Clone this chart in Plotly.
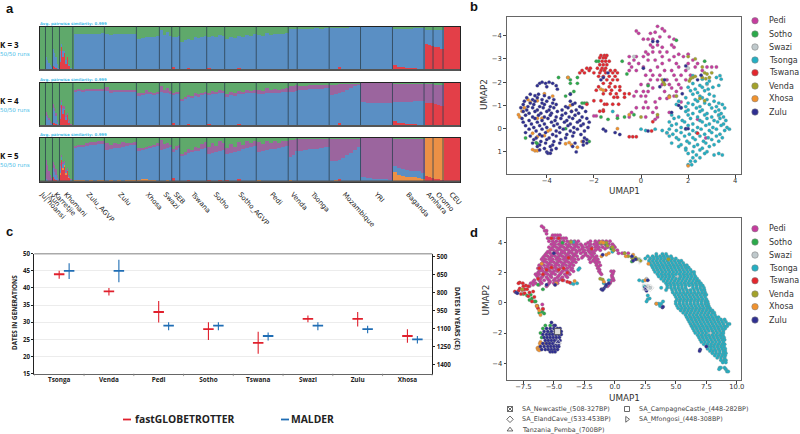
import numpy as np
import plotly.graph_objects as go

W, H = 800, 434

# ---------- panel a: admixture bars ----------
pops = ["Ju|'hoansi", "!Xun", "Karretjie", "Khomani", "Zulu_AGVP", "Zulu", "Xhosa", "Swazi", "SEB", "Tswana", "Sotho",
        "Sotho_AGVP", "Pedi", "Venda", "Tsonga", "Mozambique", "YRI", "Baganda", "Amhara", "Oromo", "CEU"]
pop_sizes = [6, 7, 7, 13.4, 31.6, 32, 23, 12.4, 8, 27, 18, 31.6, 32, 9, 32, 31.4, 32, 31.6, 9, 10, 17]

k3_red = [[0,0],[0,0,0,0,0],[.1,.08,.05,.03,0],[.2,.55,.3,.42,.15,.3,.1,.12,.03,0],
 [.005,.01,.005,.01,.005,.01,.01,.03],[.01,.01,.005,.01,.005,.01,.005,.01],[.02,.02,.02,.01,.01,.005],[.01,.01,.03,.01],
 [.08,.02,.01],[.02,.01,.05,.01,.01,.03,.01,.01],[.05,.01,.01,.03,.01],[.04,.02,.01,.06,.01,.03,.01,.01],
 [.03,.01,.01,.01,.01,.01,.01,.01],[.02,.01,.01],[.01,.01,.01,.01,.01,.01],[.01,.02,.07,.01,.01,.01,.01,.01],
 [.03,.03,.03,.03,.02,.02],[.13,.08,.07,.06,.05,.05,.04,.03],[.6,.59,.57],[.55,.53,.5],[1]]
k3_blue_top = [[0,0],[.3,.25,.18,.12,.08],[.5,.4,.3,.15,.05],[.45,.6,.45,.45,.25,.3,.15,.12,.05,0],
 [.84,.84,.85,.84,.85,.85,.84,.86],[.85,.82,.84,.83,.85,.84,.83,.85],[.73,.75,.77,.78,.77,.8],[.92,.82,.88,.8],
 [.76,.78,.8],[.66,.7,.72,.7,.76,.74,.78,.8],[.76,.8,.78,.82,.8],[.72,.78,.74,.8,.78,.82,.8,.84],
 [.82,.8,.86,.82,.84,.83,.85,.86],[.95,.96,.97],[.97,.96,.97,.98,.97,.98],[.98,.98,.99,.99,.99,1,1,1],
 [1,1,1,1,1,1],[.96,.97,.97,.97,.97,.98,.98,.98],[.94,.93,.93],[.93,.93,.92],[1]]

k4_red = [[0,0],[0,0,0,0,0],[.09,.07,.05,.03,0],[.18,.5,.28,.38,.14,.28,.1,.1,.03,0],
 [.005,.01,.005,.01,.005,.01,.01,.03],[.01,.01,.005,.01,.005,.01,.005,.01],[.02,.02,.02,.01,.01,.005],[.01,.01,.03,.01],
 [.08,.02,.01],[.02,.01,.05,.01,.01,.03,.01,.01],[.05,.01,.01,.03,.01],[.04,.02,.01,.06,.01,.03,.01,.01],
 [.03,.01,.01,.01,.01,.01,.01,.01],[.02,.01,.01],[.01,.01,.01,.01,.01,.01],[.01,.02,.07,.01,.01,.01,.01,.01],
 [.03,.03,.03,.03,.02,.02],[.13,.08,.07,.06,.05,.05,.04,.03],[.55,.55,.53],[.52,.5,.48],[1]]
k4_blue_top = [[0,0],[.25,.2,.14,.1,.06],[.42,.35,.25,.12,.04],[.42,.58,.42,.42,.22,.28,.12,.1,.03,0],
 [.8,.81,.81,.82,.82,.82,.82,.83],[.82,.78,.8,.8,.81,.8,.8,.81],[.7,.72,.74,.75,.74,.76],[.8,.76,.78,.74],
 [.72,.74,.76],[.6,.64,.67,.66,.7,.7,.74,.76],[.72,.75,.74,.77,.76],[.68,.72,.7,.75,.74,.76,.76,.78],
 [.74,.74,.76,.76,.78,.78,.79,.8],[.79,.8,.82],[.84,.85,.86,.87,.87,.88],[.73,.74,.76,.8,.84,.88,.92,.96],
 [.56,.55,.54,.54,.53,.54],[.56,.57,.57,.57,.57,.58,.58,.59],[.55,.55,.53],[.52,.5,.48],[1]]
k4_purple_top = [[0,0],[.33,.27,.2,.13,.08],[.52,.42,.3,.16,.05],[.5,.62,.48,.46,.27,.32,.17,.13,.05,0],
 [.84,.86,.85,.86,.86,.86,.86,.87],[.9,.84,.85,.84,.85,.85,.84,.85],[.76,.78,.83,.8,.78,.8],[.92,.85,.88,.82],
 [.78,.79,.8],[.64,.68,.72,.7,.76,.74,.78,.8],[.78,.82,.79,.83,.81],[.74,.8,.76,.82,.8,.84,.82,.85],
 [.84,.82,.88,.84,.86,.85,.87,.88],[.93,.94,.95],[.94,.94,.95,.95,.96,.96],[.97,.97,.98,.98,.98,.99,.99,.99],
 [1,1,1,1,1,1],[.98,.98,.99,.99,.99,.99,.99,.99],[.98,.98,.98],[.97,.97,.97],[1]]

k5_red = [[0,0],[0,0,0,0,0],[.1,.06,.04,.02,0],[.15,.5,.28,.35,.14,.25,.1,.1,.03,0],
 [0,0,.005,0,0,.005,0,.02],[0,.01,0,.005,0,.005,0,.005],[.005,.01,.005,.005,0,0],[0,.01,.02,0],
 [.07,.02,0],[.01,0,.04,.01,0,.02,0,.01],[.04,0,.01,.03,0],[.03,.01,0,.05,0,.02,.01,0],
 [.02,.01,.01,0,.01,0,.01,0],[.03,.02,.01],[.01,.01,.01,.01,0,0],[.01,.02,.05,.01,.01,.01,0,0],
 [.01,.01,.01,.01,.01,.01],[.02,.02,.02,.02,.02,.02,.02,.02],[.12,.1,.08],[.06,.05,.04],[1]]
k5_orange_top = [[0,0],[0,0,0,0,0],[.1,.06,.04,.02,0],[.2,.5,.3,.38,.2,.26,.12,.1,.03,0],
 [.03,.025,.03,.02,.025,.02,.025,.03],[.02,.025,.02,.03,.02,.025,.03,.035],[.04,.05,.05,.04,.03,.02],[.01,.015,.025,.01],
 [.07,.02,.01],[.015,.01,.04,.01,.01,.02,.01,.01],[.04,.01,.01,.03,.01],[.03,.015,.01,.05,.01,.02,.01,.01],
 [.03,.02,.02,.01,.01,.01,.01,.01],[.04,.02,.01],[.01,.01,.01,.01,.01,.01],[.02,.03,.05,.02,.01,.01,.01,.01],
 [.01,.01,.01,.01,.01,.01],[.22,.14,.12,.11,.1,.1,.08,.06],[1,1,1],[1,1,1],[1]]
k5_blue_top = [[0,0],[.05,.03,.02,.01,0],[.3,.22,.15,.07,.02],[.35,.58,.4,.44,.24,.28,.14,.12,.04,0],
 [.78,.79,.8,.82,.84,.85,.87,.88],[.72,.74,.76,.78,.8,.82,.84,.86],[.72,.74,.76,.77,.79,.81],[.73,.75,.78,.8],
 [.68,.72,.77],[.6,.62,.65,.67,.7,.72,.75,.77],[.63,.66,.68,.71,.73],[.63,.66,.68,.71,.74,.76,.79,.81],
 [.68,.7,.72,.74,.75,.77,.79,.81],[.57,.62,.69],[.71,.73,.74,.75,.77,.79],[.46,.47,.5,.54,.6,.66,.73,.8],
 [.1,.07,.06,.05,.05,.04],[.36,.3,.28,.26,.25,.24,.23,.2],[1,1,1],[1,1,1],[1]]
k5_purple_top = [[0,0],[.5,.38,.25,.15,.09],[.45,.38,.28,.15,.05],[.42,.6,.45,.46,.27,.3,.16,.13,.05,0],
 [.82,.85,.85,.88,.9,.9,.92,.92],[.88,.84,.88,.86,.9,.88,.88,.9],[.76,.78,.8,.82,.85,.88],[.96,.86,.88,.84],
 [.74,.82,.85],[.64,.68,.74,.72,.8,.76,.86,.9],[.8,.88,.82,.92,.88],[.78,.86,.8,.9,.84,.92,.88,.94],
 [.9,.86,.94,.88,.92,.88,.92,.94],[.96,.97,.98],[.98,.98,.98,.98,.99,.99],[.98,.98,.99,.99,.99,.99,.99,.99],
 [1,1,1,1,1,1],[.99,.99,.99,.99,.99,.99,.99,.99],[1,1,1],[1,1,1],[1]]

# ---------- panel c: admixture dates ----------
date_groups = ["Tsonga", "Venda", "Pedi", "Sotho", "Tswana", "Swazi", "Zulu", "Xhosa"]
fgt_date = [44, 39, 33, 28, 24, 31, 31, 26]
fgt_hi = [45, 40, 36.2, 30, 27.2, 32, 33, 28]
fgt_lo = [42.7, 37.8, 29.9, 24.8, 20.8, 30, 28.8, 24]
mal_date = [45, 45, 29, 29, 26, 29, 28, 25]
mal_hi = [47.2, 48.2, 30, 30, 27, 30, 29, 26]
mal_lo = [42.6, 41.7, 27.7, 27.7, 24.7, 27.7, 26.8, 23.8]
years_ticks = [500, 650, 800, 950, 1100, 1250, 1400]

# ---------- panels b and d: UMAP points, rows of (UMAP2, [UMAP1 ...]) ----------
group_names = ["Pedi", "Sotho", "Swazi", "Tsonga", "Tswana", "Venda", "Xhosa", "Zulu"]
group_colors = ["#C53C9E", "#2BAA4A", "#BFC9CC", "#23AFC3", "#E3262D", "#A3A22A", "#F0922E", "#2F2F91"]

b_pedi = [(-4.4,[.7]),(-4.3,[.9]),(-4.2,[-.2,1.0]),(-4.15,[.6]),(-4.1,[-.1,.4]),(-3.95,[.8,1.2]),(-3.85,[.1,.3,.5,1.4]),
 (-3.6,[.4,.7,1.3]),(-3.5,[.5,.9,1.4]),(-3.3,[.2,.5,.8,1.1]),(-3.2,[.3,1.6,2.0]),(-3.1,[-.5,-.2,.1,.9,1.4,1.8]),
 (-2.95,[-.3,.3,.6,1.2,2.2]),(-2.8,[-.5,-.1,.9,1.5,2.0,2.4]),(-2.65,[-.4,.1,.7,1.6,2.3,2.8,3.0,3.2]),
 (-2.5,[-.5,-.2,.4,1.0,1.3,1.9,2.6]),(-2.3,[.2,.5,.8,1.4,1.7,2.1]),(-2.1,[.4,.7,1.1,1.5,1.9]),(-1.9,[0,.3,.9,1.2,1.6]),
 (-1.75,[.5,1.3,1.7]),(-1.6,[-.2,.1,.3,1.0,1.5]),(-1.4,[-.3,0,.2,1.2,1.4]),(-1.3,[.8,1.1]),(-1.15,[.2,.6,1.7]),
 (-.9,[-.2,.1,.3,.65]),(-.7,[-.4,.5,1.2]),(-.55,[-1.9,-2.0,-1.0]),(-.5,[-.5,.2,.7]),(-.4,[.6,2.4]),(.4,[2.75])]
b_sotho = [(-3.8,[1.5]),(-2.9,[-1.9,-1.8,-.8,2.7]),(-2.35,[-.6]),(-2.2,[-3.5,-3.1,-2.7]),(-2.1,[-3.0]),(-1.95,[-3.0,-2.7]),
 (-1.85,[.3]),(-1.6,[-2.85]),(-1.5,[-3.0]),(-1.4,[-3.2]),(-1.1,[-2.5,-2.4,-2.3]),(-.6,[-.3]),(-.5,[-.7,-1.7]),(-.45,[-1.0]),
 (-.4,[-1.4]),(0,[-3.2]),(.4,[-4.9]),(.55,[-2.2]),(.6,[-4.45]),(.65,[-4.4])]
b_swazi = [(-3.1,[-.3]),(-2.6,[2.0]),(-1.9,[2.8]),(-1.4,[1.5]),(-.55,[3.3]),(.2,[1.1])]
b_tsonga = [(-2.28,[2.2,3.35]),(-2.2,[3.2]),(-2.13,[2.6,3.4]),(-2.05,[2.9]),(-1.94,[2.2,2.8]),(-1.86,[2.5,3.3]),(-1.78,[2.0,2.6,3.05]),
 (-1.7,[2.3,2.85]),(-1.63,[2.1,2.7]),(-1.55,[2.4]),(-1.48,[2.2,2.9]),(-1.4,[2.5,3.1]),(-1.33,[1.9,2.6]),(-1.25,[2.3,2.8]),(-1.18,[1.6,2.4,3.1]),
 (-1.1,[2.0,2.7,3.3]),(-1.04,[1.5,2.2,2.9,3.45]),(-.95,[1.9,2.5,3.2]),(-.89,[1.7,2.35,3.0,3.55]),(-.8,[2.0,2.6,3.3]),(-.74,[1.9,2.5,3.15,-1.2]),
 (-.65,[2.2,2.8,3.4]),(-.59,[1.3,2.0,2.7,3.3]),(-.5,[1.6,2.4,3.0,3.5]),(-.44,[1.4,2.1,2.8,3.35]),(-.35,[1.75,2.5,3.1,3.6]),(-.29,[1.2,1.85,2.6,3.25]),
 (-.2,[1.5,2.2,2.9,3.5]),(-.14,[1.3,2.0,2.75,3.4]),(-.05,[1.7,2.4,3.05,3.65]),(.02,[0,.6,1.2,1.9,2.55,3.2,3.75]),(.08,[.2,.9,1.5,2.2,2.9,3.55]),
 (.17,[1.1,1.7,2.35,3.0]),(.24,[1.35,2.05,2.7,3.35]),(.32,[1.2,1.85,2.5,3.2]),(.39,[1.5,2.2,2.85,3.45]),(.47,[1.6,2.3,3.0]),(.54,[1.95,2.65,3.3]),
 (.62,[1.3,2.05,2.75]),(.69,[1.7,2.4,3.1]),(.77,[1.6,2.25,2.9]),(.84,[1.9,2.6]),(.92,[1.9,2.5]),(.99,[2.2,2.8]),(1.07,[2.0,2.7,3.3]),(1.13,[2.35,3.1,3.45]),
 (1.25,[2.2,2.5]),(1.4,[2.1,2.3]),(1.55,[2.0,2.15])]
b_tswana = [(-3.15,[-1.7,-1.55,-1.45]),(-3.05,[-1.75,-1.6,-1.5]),(-2.9,[-1.65,-1.5,-1.35]),(-2.75,[-1.75,-1.6,-1.45]),
 (-2.6,[-1.85,-1.65,-1.5,-2.3,-2.15]),(-2.5,[-1.7,-1.55,-1.3,-1.1,-2.5,-2.2]),(-2.4,[-2.6,-2.4,-2.0,-1.75,-1.5,-1.2,-1.0]),
 (-2.25,[-1.8,-1.6,-1.35,-1.1]),(-2.1,[-1.45,-1.2,-1.0]),(-1.95,[-1.6,-1.3]),(-1.8,[-1.8,-1.35,-1.1,-.9]),
 (-1.65,[-1.9,-1.5,-1.25,-.9]),(-1.5,[-1.6,-1.3,-1.05,-.7,-.5]),(-1.35,[-1.15,-1.0,-.7]),(-1.2,[-2.0,-1.7]),
 (-1.05,[-2.3,-1.55,-1.45,-1.2,-.95]),(-.8,[-1.6]),(-.75,[-1.75,-1.6]),(-.3,[.5]),(.35,[-.5,-.35,-.2]),(.1,[.45]),(.2,[2.4])]
b_venda = [(-3.1,[2.0]),(-3.0,[2.3]),(-2.65,[2.6]),(-2.4,[2.7,3.0]),(-2.35,[2.8]),(-2.25,[2.3]),(-2.2,[2.2,2.6,2.9]),(-2.15,[2.1,2.75]),
 (-2.1,[.9]),(-2.05,[2.05]),(-2.0,[.95]),(-1.9,[1.0]),(-1.4,[1.2,1.5]),(-1.3,[2.5]),(-1.2,[2.7]),(-.6,[.7]),(-.5,[0])]
b_xhosa = [(-1.5,[-4.1]),(-1.4,[-3.75]),(-1.25,[-4.8]),(-1.2,[-4.4]),(-1.15,[-4.7]),(-1.0,[-3.0]),(-.9,[-4.95]),(-.75,[-5.05,-2.95]),
 (-.6,[-5.2,-.5]),(-.5,[-5.15]),(-.45,[-4.4,-4.2]),(-2.2,[-3.1]),(-1.7,[-1.7]),(-1.65,[-1.6]),(-1.35,[1.2]),(.05,[-3.85]),(.0,[-1.0]),
 (.1,[-3.95]),(.2,[-4.6]),(.3,[-4.1]),(.35,[-4.4]),(.55,[-2.5]),(.6,[-3.05]),(.65,[-3.2]),(.7,[-2.95]),(.8,[-2.7]),
 (.9,[-4.6]),(.95,[-4.5,-4.4]),(1.6,[2.0])]
b_zulu = [(-1.95,[-4.3,-4.05,-3.75]),(-2.0,[-4.2,-3.9]),(-1.85,[-4.4,-3.6]),(-1.8,[-4.0]),(-1.7,[-3.55]),(-1.48,[-4.7,-4.35,-3.0]),(-1.42,[-4.5,-4.1]),
 (-1.33,[-4.85,-4.4,-3.9]),(-1.25,[-4.6,-4.2,-3.7]),(-1.18,[-4.95,-4.5,-4.0,-3.0]),(-1.1,[-4.7,-4.2,-3.75,-2.8]),(-1.04,[-5.0,-4.55,-4.1,-3.6,-2.9]),
 (-.95,[-4.8,-4.3,-3.85,-3.2,-2.6]),(-.9,[-5.1,-4.6,-4.15,-3.7,-3.1,-2.5]),(-.8,[-4.85,-4.4,-3.9,-3.35,-2.75]),(-.74,[-5.0,-4.5,-4.0,-3.55,-2.95,-2.35]),
 (-.66,[-4.75,-4.25,-3.8,-3.2,-2.65]),(-.58,[-4.9,-4.35,-3.85,-3.35,-2.8]),(-.5,[-4.6,-4.1,-3.6,-3.05,-2.5]),(-.44,[-5.05,-4.5,-3.95,-3.4,-2.9,-2.3]),
 (-.35,[-4.75,-4.2,-3.65,-3.15,-2.6]),(-.28,[-5.0,-4.4,-3.8,-3.25,-2.7,-2.2]),(-.2,[-4.65,-4.1,-3.55,-3.0,-2.45]),(-.13,[-4.9,-4.3,-3.7,-3.1,-2.55]),
 (-.05,[-4.55,-4.0,-3.45,-2.85,-2.25]),(.02,[-4.75,-4.2,-3.3,-2.7,-1.6]),(.1,[-4.45,-3.6,-3.0,-2.4]),(.17,[-4.9,-4.05,-3.45,-2.85,-1.1]),
 (.25,[-4.3,-3.75,-3.15,-2.55,-.9]),(.32,[-4.7,-4.2,-3.6,-2.9]),(.4,[-4.45,-3.9,-3.2,-2.4]),(.47,[-4.55,-4.0,-3.4,-2.3]),(.55,[-4.25,-3.7,-2.45]),
 (.62,[-4.6,-4.05,-3.45,-2.8,-2.3]),(.7,[-4.3,-3.75,-2.45]),(.77,[-4.4,-3.85,-2.9]),(.85,[-4.1,-3.6]),(.92,[-4.3,-3.8]),(1.0,[-4.0,-2.75]),(1.06,[-3.95,-3.85]),
 (-3.75,[.5,.7]),(-2.7,[1.9]),(-2.6,[.1]),(-2.4,[-1.4]),(-2.3,[2.55]),(-2.2,[-1.6]),
 (-2.1,[-1.7,1.0,2.4]),(-1.8,[.8]),(-1.5,[1.75]),(-1.0,[1.6]),(-.9,[1.7]),(-.7,[1.3]),(.1,[.3,-1.5]),(.0,[1.9,2.0])]

d_pedi = [(5.1,[-6.0]),(5.0,[-5.85]),(4.8,[-5.75,-5.6]),(4.6,[-5.6]),(4.5,[-5.1,-4.9,-4.7,-4.5]),(4.3,[-5.5,-5.3,-5.0,-4.7,-4.4,-4.2,-4.0]),
 (4.1,[-5.4,-5.1,-4.8,-4.5,-4.2,-3.9,-3.6,-3.3,-3.0,-2.0,-1.6,-1.3,-1.0,-.7,-.4]),
 (3.9,[-5.2,-4.9,-4.6,-4.3,-4.0,-3.7,-3.4,-3.1,-2.8,-2.4,-2.0,-1.7,-1.4,-1.1,-.8,-.5,-.2]),
 (3.7,[-5.4,-5.1,-4.8,-4.5,-4.2,-3.9,-3.6,-3.3,-3.0,-2.6,-2.3,-1.9,-1.6,-1.3,-1.0,-.6,-.3,0]),
 (3.5,[-5.3,-5.0,-4.7,-4.4,-4.1,-3.8,-3.5,-3.2,-2.9,-2.5,-2.2,-1.9,-1.6,-1.2,.2,-.1]),
 (3.3,[-5.6,-5.3,-5.0,-4.7,-4.4,-4.1,-3.8,-3.5,-3.2,-2.8,-2.4,-2.0,-1.7,.3]),
 (3.1,[-5.8,-5.5,-5.2,-4.9,-4.6,-4.3,-4.0,-3.7,-3.4,-3.1,-2.6,-2.2,-1.8,-1.5]),
 (2.9,[-6.0,-5.7,-5.4,-5.1,-4.8,-4.5,-4.2,-3.9,-3.6,-3.3,-3.0,-2.1,-1.7,-1.4]),
 (2.7,[-5.9,-5.6,-5.3,-5.0,-4.7,-4.4,-4.1,-3.8,-3.5,-3.2,-2.0,-1.6,-1.3]),
 (2.5,[-6.2,-5.8,-5.5,-5.2,-4.9,-4.6,-4.3,-4.0,-3.7,-3.4,-1.5,-1.2]),
 (2.3,[-6.3,-6.0,-5.7,-5.4,-5.1,-4.8,-4.5,-4.2,-3.9,-3.5,-1.4]),
 (2.1,[-6.2,-5.9,-5.6,-5.3,-5.0,-4.7,-4.3,-3.9,-3.4,-1.3,-.1,-.3]),
 (1.9,[-6.5,-6.2,-5.8,-5.5,-5.2,-4.9,-4.5,-4.1,-3.7,-1.1,-.2]),(1.7,[-6.3,-6.0,-5.6,-5.2,-4.7,-4.3,-3.9,-.2]),
 (1.5,[-6.6,-6.2,-5.8,-5.4,-5.0,-4.6,-4.2,-.1,-.3]),(1.3,[-6.9,-6.5,-6.0,-5.4,-5.0,-4.7,-.4]),(1.1,[-7.0,-5.6,-.6]),
 (3.3,[.6,.8,1.1]),(-.1,[-5.95]),(-.4,[-5.9]),
 (4.0,[-5.0,-4.4,-3.7,-3.2,-2.2,-1.5,-.9]),(3.8,[-5.0,-4.4,-3.8,-3.2,-2.7,-2.1,-1.5,-.7,-.1]),(3.6,[-5.2,-4.6,-4.0,-3.4,-2.7,-2.1,-1.4,-.8]),
 (3.4,[-5.5,-4.9,-4.3,-3.7,-3.1,-2.6,-2.1,-1.8]),(3.2,[-5.7,-5.1,-4.5,-3.9,-3.3,-2.4,-1.9]),(3.0,[-5.9,-5.3,-4.7,-4.1,-3.5,-2.7,-2.0,-1.6]),
 (2.8,[-5.8,-5.2,-4.6,-4.0,-3.4,-1.8,-1.5]),(2.6,[-6.0,-5.4,-4.8,-4.2,-3.6,-1.5]),(2.4,[-6.1,-5.5,-4.9,-4.3,-3.7,-1.35]),(2.2,[-6.0,-5.4,-4.8,-4.1,-3.6,-1.25]),
 (2.0,[-6.3,-5.7,-5.1,-4.4,-3.8,-1.2,-.15]),(1.8,[-6.4,-5.9,-5.3,-4.6,-4.0,-.25]),(1.6,[-6.1,-5.5,-4.9,-4.4,-.15]),(1.4,[-6.7,-6.1,-5.3,-4.8,-.35]),(1.2,[-6.7,-6.2,-5.5,-4.9,-.5])]
d_sotho = [(4.0,[-4.3,-1.1]),(3.9,[-.7]),(3.6,[-.3]),(2.9,[1.5,2.0]),(2.75,[1.4]),(1.2,[-6.3]),(.9,[-5.9]),(.6,[-7.5]),(.55,[-6.9]),(.5,[-7.2]),
 (.3,[-6.8]),(.2,[-7.0]),(.1,[-6.6,-6.5]),(-.2,[-6.35]),(-.6,[-5.95]),(-.65,[-6.2]),(-.7,[-5.8]),(-1.5,[-5.7,-5.3]),(-1.7,[-5.9]),
 (-2.0,[-6.1,-5.3]),(-2.3,[-6.0])]
d_swazi = [(2.8,[2.1]),(1.7,[5.1]),(1.6,[2.6]),(1.1,[2.7]),(1.05,[2.5]),(1.0,[2.9]),(.8,[6.0]),(-1.5,[6.5]),(-2.0,[7.8]),(-2.6,[-4.9])]
d_tsonga = [(3.25,[3.4,3.9,4.2]),(3.1,[2.7,3.1,3.4,3.7,4.0,4.3,4.6]),(2.95,[2.5,2.9,3.2,3.5,3.8,4.1,4.4,4.7,5.0]),
 (2.8,[2.8,3.1,3.4,3.7,4.0,4.3,4.6,4.9,5.2,5.45]),(2.65,[2.9,3.2,3.5,3.8,4.1,4.4,4.7,5.0,5.3,5.6]),
 (2.5,[3.0,3.3,3.6,3.9,4.2,4.5,4.8,5.1,5.4,5.7,5.9]),(2.35,[3.1,3.4,3.7,4.0,4.3,4.6,4.9,5.2,5.5,5.8,6.05]),
 (2.2,[3.2,3.5,3.8,4.1,4.4,4.7,5.0,5.3,5.6,5.9,6.2]),(2.05,[3.3,3.6,3.9,4.2,4.5,4.8,5.1,5.4,5.7,6.0,6.3,6.5]),
 (1.9,[3.5,3.8,4.1,4.4,4.7,5.0,5.3,5.6,5.9,6.2,6.5]),(1.75,[3.6,3.9,4.2,4.5,4.8,5.4,5.7,6.0,6.3,6.6]),
 (1.6,[3.8,4.1,4.4,4.7,5.0,5.3,5.6,5.9,6.2,6.5,6.75]),(1.45,[4.0,4.3,4.6,4.9,5.2,5.5,5.8,6.1,6.4,6.7,6.9]),
 (1.3,[4.2,4.5,4.8,5.1,5.4,5.7,6.0,6.3,6.6,6.9,7.05]),(1.15,[4.3,4.6,4.9,5.2,5.5,5.8,6.1,6.4,6.7,7.0,7.2]),
 (1.0,[3.8,4.3,4.6,4.9,5.2,5.5,5.8,6.4,6.7,7.0,7.3]),(.85,[4.2,4.7,5.0,5.3,5.6,5.9,6.2,6.5,6.8,7.1,7.35]),
 (.7,[4.75,5.05,5.35,5.65,5.95,6.25,6.55,6.85,7.15,7.4]),(.55,[4.9,5.2,5.5,5.8,6.1,6.4,6.7,7.0,7.3,7.5]),
 (.4,[5.0,5.3,5.6,5.9,6.2,6.5,6.8,7.1,7.4]),(.25,[2.7,5.1,5.4,5.7,6.0,6.3,6.6,6.9,7.2,7.5]),(.1,[2.6,3.95,5.0,5.3,5.6,5.9,6.2,6.5,6.8,7.1,7.4,7.6]),
 (-.05,[3.4,3.6,3.8,5.0,5.3,5.6,5.9,6.2,6.5,6.8,7.1,7.4,7.65]),(-.2,[3.7,5.1,5.4,5.7,6.0,6.3,6.6,6.9,7.2,7.5,7.7]),
 (-.35,[5.2,5.5,5.8,6.1,6.4,6.7,7.0,7.3,7.6,7.8]),(-.5,[5.4,5.7,6.0,6.3,6.6,6.9,7.2,7.5,7.8,8.0]),
 (-.65,[5.6,5.9,6.2,6.5,6.8,7.1,7.4,7.7,8.0,8.15]),(-.8,[5.8,6.1,6.4,6.7,7.0,7.3,7.6,7.9,8.2]),
 (-.95,[5.9,6.2,6.5,6.8,7.1,7.4,7.7,8.0,8.3,8.5]),(-1.1,[6.0,6.3,6.6,6.9,7.2,7.5,7.8,8.1,8.4,8.7,9.0]),
 (-1.25,[6.1,6.4,6.7,7.0,7.3,7.6,7.9,8.2,8.5,8.8,9.1]),(-1.4,[6.2,6.5,6.8,7.1,7.4,7.7,8.0,8.3,8.6,8.9,9.25,9.4]),
 (-1.55,[6.3,6.6,6.9,7.2,7.5,7.8,8.1,8.4,8.7,9.0,9.2]),(-1.7,[6.4,6.7,7.0,7.3,7.6,7.9,8.2,8.5,8.8,9.05]),
 (-1.85,[6.5,6.8,7.1,7.4,7.7,8.0,8.3,8.6,8.9]),(-2.0,[6.6,6.9,7.2,7.5,8.1,8.4,8.7,8.9]),(-2.15,[6.8,7.1,7.4,7.7,8.0,8.3,8.6,8.85]),
 (-2.3,[6.9,7.2,7.5,7.8,8.1,8.4,8.7,8.95]),(-2.45,[7.0,7.3,7.6,7.9,8.2,8.5,8.8,9.0]),(-2.6,[7.1,7.4,7.7,8.0,8.3,8.6,8.9]),
 (-2.75,[7.3,7.6,7.9,8.2,8.5,8.8,9.0]),(-2.9,[7.6,7.85,8.1,8.4,8.7,8.95]),(-3.05,[7.6,7.9,8.2,8.5,8.8,9.05]),
 (-3.2,[7.8,8.05,8.3,8.6,8.9,9.05]),(-3.35,[8.0,8.3,8.6,8.9,9.1]),(-3.5,[8.2,8.5,8.8,9.05]),(-3.65,[8.4,8.7,9.0]),(-3.8,[8.7,8.95,9.1]),
 (-3.95,[8.85,9.1]),(-4.3,[8.6,8.7,9.0]),(-4.4,[8.55,9.1]),(-4.55,[9.2,9.3]),
 (4.05,[-3.4]),(2.3,[-2.9]),(2.2,[-3.0]),(1.5,[-.5,2.0]),(1.45,[2.3]),(1.3,[-3.6,-3.1,-.9]),(1.25,[-3.4]),(1.1,[2.4]),(.5,[2.7]),(.3,[2.85]),(3.4,[-.2])]
d_tswana = [(4.3,[-5.2,-4.6]),(3.6,[-1.9]),(3.0,[-3.8]),(2.35,[-5.2]),(2.3,[-6.2,-4.2]),(2.2,[-5.6,-4.6]),(2.0,[-3.9]),(1.9,[-5.9]),(1.6,[-6.3]),
 (1.5,[-4.3]),(1.4,[-3.9]),(1.35,[-7.8,-3.7]),(1.3,[-7.9,-7.55]),(1.15,[-7.3]),(1.1,[-7.5,-7.1]),(.95,[-7.8]),(.9,[-7.4,-7.2]),
 (.85,[-7.6]),(.8,[-7.9]),(.75,[-8.2,-6.7]),(.7,[-7.0]),(.65,[-7.4]),(.6,[-7.7]),(.45,[-7.1]),(.4,[-6.6]),(.1,[-6.8]),(-.2,[-6.4]),
 (-.35,[-6.3]),(-.4,[-5.9])]
d_venda = [(4.05,[-3.6]),(4.0,[-1.2,-.9,-.7]),(3.8,[-.6]),(3.7,[-.2]),(3.5,[-.1]),(3.3,[.8]),(3.1,[1.1]),(3.0,[1.4,1.7]),(2.9,[1.5,1.8,4.4]),
 (2.8,[2.1]),(1.6,[-1.2]),(1.55,[-1.0]),(.9,[-7.6])]
d_xhosa = [(4.05,[-1.1]),(4.0,[-.95]),(3.3,[-.5]),(3.2,[-.7,1.5]),(3.1,[-1.1,.9]),(2.6,[-6.0,2.75]),(1.5,[2.5]),(1.45,[-3.3]),(1.4,[-.9]),(1.3,[-4.8]),
 (-.05,[3.4]),(-.2,[-6.4]),(-.5,[-6.2]),(-.8,[-6.1]),(-2.6,[-6.1]),(-2.7,[-6.15,-5.7,-5.4]),(-2.95,[-6.25]),(-3.0,[-6.35,-6.15]),(-3.1,[-6.3]),(-3.15,[-6.2])]
d_zulu = [(-1.3,[-5.2]),(-1.5,[-5.0,-4.9]),(-1.7,[-5.6,-5.3,-5.0,-4.7,-4.5]),(-1.9,[-5.8,-5.5,-5.2,-4.9,-4.6,-4.4]),
 (-2.1,[-5.9,-5.6,-5.35,-5.1,-4.85,-4.6,-4.4]),(-2.3,[-5.8,-5.55,-5.3,-5.05,-4.8,-4.55]),(-2.5,[-5.7,-5.45,-5.2,-4.95,-4.7,-4.5]),
 (-2.7,[-5.9,-5.6,-5.35,-5.1,-4.85,-4.6]),(-2.9,[-6.1,-5.8,-5.5,-5.25,-5.0,-4.75,-4.6]),(-3.1,[-6.0,-5.7,-5.45,-5.2,-4.95,-4.7]),
 (-3.25,[-5.3,-5.1,-4.9]),(.7,[-8.1]),(.65,[-8.0]),(.95,[-.9]),(.9,[-1.1,2.5]),(.85,[-1.0]),(1.0,[2.5]),(1.1,[-.75]),(1.2,[-.7,-4.9,-5.6]),
 (1.3,[-.5]),(3.3,[-5.0]),(3.2,[-1.0]),(3.1,[1.4]),(2.9,[1.7]),(2.8,[1.5]),(1.5,[2.7]),(.8,[2.6]),(-.3,[3.9]),(-.25,[3.95]),
 (-2.9,[7.5]),(-3.1,[7.0]),(-3.2,[6.95])]

b_layers = [b_pedi, b_sotho, b_swazi, b_tsonga, b_tswana, b_venda, b_xhosa, b_zulu]
d_layers = [d_pedi, d_sotho, d_swazi, d_tsonga, d_tswana, d_venda, d_xhosa, d_zulu]

ancient_names = ["SA_Newcastle_(508-327BP)", "SA_ElandCave_(533-453BP)", "Tanzania_Pemba_(700BP)",
                 "SA_CampagneCastle_(448-282BP)", "SA_Mfongosi_(448-308BP)"]
ancient_symbols = ["square-x-open", "diamond-open", "triangle-up-open", "square-open", "triangle-right-open"]
ancient_x = [2.5, 2.9, -4.65, -4.7, 2.1]
ancient_y = [1.05, 1.0, -2.6, -1.9, 2.8]


def hd(x0, x1):
    return [x0 / W, x1 / W]


def vd(y0, y1):
    return [1 - y1 / H, 1 - y0 / H]


def expand(rows):
    xs, ys = [], []
    for y, row in rows:
        for x in row:
            xs.append(x)
            ys.append(y)
    return xs, ys


fig = go.Figure()
FONT = "DejaVu Sans"
OS = "Open Sans"

# --- admixture bars
flat = lambda l: [v for row in l for v in row]
centers, widths = [], []
left = 0
for size, row in zip(pop_sizes, k3_red):
    w = size / len(row)
    for i in range(len(row)):
        centers.append(left + w * (i + .5))
        widths.append(w)
    left += size
total = left
boundaries = np.cumsum(pop_sizes)[:-1].tolist()
pop_centers = (np.cumsum(pop_sizes) - np.array(pop_sizes) / 2).tolist()

COL = dict(red="#E33F48", orange="#EC9046", blue="#5A8FC4", purple="#9B659E", green="#5FA96B")
panels = [
    ("x", "y", [("red", k3_red), ("blue", k3_blue_top)]),
    ("x2", "y2", [("red", k4_red), ("blue", k4_blue_top), ("purple", k4_purple_top)]),
    ("x3", "y3", [("red", k5_red), ("orange", k5_orange_top), ("blue", k5_blue_top), ("purple", k5_purple_top)]),
]
for xa, ya, layers in panels:
    prev = np.zeros(len(centers))
    for name, vals in layers:
        top = np.maximum(np.array(flat(vals), float), prev)
        fig.add_bar(x=centers, y=(top - prev).tolist(), width=widths, marker=dict(color=COL[name], line=dict(width=0)),
                    xaxis=xa, yaxis=ya, showlegend=False, hoverinfo="skip")
        prev = top
    fig.add_bar(x=centers, y=(1 - prev).tolist(), width=widths, marker=dict(color=COL["green"], line=dict(width=0)),
                xaxis=xa, yaxis=ya, showlegend=False, hoverinfo="skip")

# --- UMAP panels
for layers, xa, ya, size in [(b_layers, "x4", "y4", 3.4), (d_layers, "x5", "y5", 3.5)]:
    for name, color, rows in zip(group_names, group_colors, layers):
        xs, ys = expand(rows)
        fig.add_scatter(x=xs, y=ys, mode="markers", xaxis=xa, yaxis=ya, showlegend=False, hoverinfo="skip",
                        marker=dict(color=color, size=size, line=dict(color="rgba(130,130,130,.7)", width=.4)))
fig.add_scatter(x=ancient_x, y=ancient_y, mode="markers", xaxis="x5", yaxis="y5", showlegend=False, hoverinfo="skip",
                marker=dict(symbol=[s.replace("-open", "") if s == "square-open" else s for s in ancient_symbols], size=6,
                            color="#dddddd", line=dict(color="#555555", width=.8)))

# --- dates
xi = list(range(len(date_groups)))
for vals, hi, lo, color, off in [(fgt_date, fgt_hi, fgt_lo, "#E0202D", 0), (mal_date, mal_hi, mal_lo, "#1F6DB4", .2)]:
    fig.add_scatter(x=[i + off for i in xi], y=vals, mode="markers", xaxis="x6", yaxis="y6", showlegend=False, hoverinfo="skip",
                    marker=dict(symbol="line-ew", size=7.5, line=dict(color=color, width=1.8)),
                    error_y=dict(type="data", symmetric=False, array=[h - v for h, v in zip(hi, vals)],
                                 arrayminus=[v - l for v, l in zip(vals, lo)], color=color, thickness=1.1, width=0))
# invisible trace carrying the right-hand axis
fig.add_scatter(x=[0], y=[years_ticks[0]], mode="markers", marker=dict(opacity=0), xaxis="x6", yaxis="y7", showlegend=False, hoverinfo="skip")

# --- legend keys on a full-page helper axis
leg_y = [20.7, 34, 47, 60, 72.7, 86, 98.7, 112]
ann = []


def label(x, y, text, size, color="#111", bold=False, family=OS, angle=0, anchor="left"):
    ann.append(dict(x=x, y=y, xref="x8", yref="y8", text=f"<b>{text}</b>" if bold else text, showarrow=False, xanchor=anchor,
                    yanchor="middle", textangle=angle, borderpad=0, borderwidth=0, font=dict(family=family, size=size, color=color)))


for ox, oy in [(755, 0), (755, 208)]:
    fig.add_scatter(x=[ox] * 8, y=[v + oy for v in leg_y], mode="markers", xaxis="x8", yaxis="y8", showlegend=False, hoverinfo="skip",
                    marker=dict(color=group_colors, size=6.5, line=dict(color="rgba(130,130,130,.8)", width=.7)))
    for name, v in zip(group_names, leg_y):
        label(768.5, v + oy, name, 8, color="#333", family=FONT)
key_pos = [(510, 409), (510, 419.3), (510, 429.7), (627, 409), (627, 419.3)]
fig.add_scatter(x=[p[0] for p in key_pos], y=[p[1] for p in key_pos], mode="markers", xaxis="x8", yaxis="y8", showlegend=False,
                hoverinfo="skip", marker=dict(symbol=ancient_symbols, size=5, color="#444", line=dict(color="#444", width=.8)))
for name, (px, py) in zip(ancient_names, key_pos):
    label(px + 12, py, name, 6.4, color="#444", family=FONT)

for t, x, y in [("a", 6, 8), ("b", 470, 6), ("c", 6, 231), ("d", 470, 232)]:
    label(x, y, t, 13, bold=True, family="Liberation Sans")
for k, y0 in [(3, 44), (4, 100), (5, 155)]:
    label(0, y0, f"K = {k}", 8, bold=True, family="Open Sans")
    label(0, y0 + 10, "50/50 runs", 5.5, color="#47BDE8", family=FONT)
    label(39.5, y0 - 21, "Avg. pairwise similarity: 0.999", 3.9, color="#47BDE8", bold=True, family=FONT)
label(14, 313, "DATES IN GENERATIONS", 6.3, color="#222", bold=True, angle=-90, anchor="center")
label(458, 318, "DATES IN YEARS (CE)", 6.3, color="#222", bold=True, angle=90, anchor="center")
label(135, 419, "fastGLOBETROTTER", 10.3, color="#222", bold=True)
label(291, 419, "MALDER", 10.3, color="#222", bold=True)
label(624, 191, "UMAP1", 8.8, color="#333", family=FONT, anchor="center")
label(484, 95, "UMAP2", 8.8, color="#333", family=FONT, angle=-90, anchor="center")
label(624, 397.5, "UMAP1", 8.8, color="#333", family=FONT, anchor="center")
label(485.5, 300, "UMAP2", 8.8, color="#333", family=FONT, angle=-90, anchor="center")

fig.add_scatter(x=[123, 131], y=[419.5, 419.5], mode="lines", xaxis="x8", yaxis="y8", showlegend=False,
                hoverinfo="skip", line=dict(width=1.8, color="#E0202D"))
fig.add_scatter(x=[281, 289], y=[419.5, 419.5], mode="lines", xaxis="x8", yaxis="y8", showlegend=False, hoverinfo="skip",
                line=dict(width=1.8, color="#1F6DB4"))

# --- pop separators
shapes = []
for xa, ya in [("x", "y"), ("x2", "y2"), ("x3", "y3")]:
    for b in boundaries:
        shapes.append(dict(type="line", xref=xa, yref=f"{ya} domain", x0=b, x1=b, y0=0, y1=1,
                           line=dict(color="rgba(45,65,80,.8)", width=1), layer="above"))
    shapes.append(dict(type="line", xref=f"{xa} domain", yref=f"{ya} domain", x0=0, x1=1, y0=0, y1=0,
                       line=dict(color="#555", width=2), layer="above"))
shapes.append(dict(type="line", xref="x6 domain", yref="y6 domain", x0=0, x1=1, y0=1, y1=1, line=dict(color="#aaa", width=1.5)))
for i in range(len(date_groups) + 1):
    shapes.append(dict(type="line", xref="x6", yref="y6 domain", x0=i - .5, x1=i - .5, y0=-.02, y1=0, line=dict(color="#888", width=.8)))

bar_frame = dict(range=[0, total], showline=True, mirror=True, linecolor="#222", linewidth=1, showgrid=False, zeroline=False, fixedrange=True)
bar_y = dict(range=[0, 1], showline=True, mirror=True, linecolor="#222", linewidth=1, showgrid=False, zeroline=False, showticklabels=False, ticks="")

umap_axis = dict(showline=True, mirror=True, linecolor="#666", linewidth=1.2, showgrid=False, zeroline=False, ticks="outside",
                 ticklen=2.5, tickwidth=.7, tickcolor="#444", tickfont=dict(family=FONT, size=6.8, color="#333"))

grid = "#ECECEC"
fig.update_layout(
    template="none",
    width=W, height=H, autosize=False, margin=dict(l=0, r=0, t=0, b=0, pad=0), paper_bgcolor="white", plot_bgcolor="rgba(0,0,0,0)",
    barmode="stack", bargap=0, annotations=ann, shapes=shapes,
    xaxis=dict(domain=hd(39.5, 460), showticklabels=False, ticks="", **bar_frame),
    yaxis=dict(domain=vd(26.5, 70), **bar_y),
    xaxis2=dict(domain=hd(39.5, 460), anchor="y2", showticklabels=False, ticks="", **bar_frame),
    yaxis2=dict(domain=vd(82.5, 126), anchor="x2", **bar_y),
    xaxis3=dict(domain=hd(39.5, 460), anchor="y3", tickmode="array", tickvals=pop_centers, ticktext=pops, tickangle=48, ticks="outside", ticklen=5,
                tickcolor="rgba(0,0,0,0)", tickfont=dict(family=FONT, size=6.9, color="#222"), **bar_frame),
    yaxis3=dict(domain=vd(138, 181.5), anchor="x3", **bar_y),
    xaxis4=dict(domain=hd(506.7, 740.7), anchor="y4", range=[-5.7, 4.23], tickvals=[-4, -2, 0, 2, 4], ticktext=["−4", "−2", "0", "2", "4"],
                ticklabelstandoff=-3, **umap_axis),
    yaxis4=dict(domain=vd(17.3, 174), anchor="x4", range=[1.95, -4.79], tickvals=[-4, -3, -2, -1, 0, 1],
                ticktext=["−4", "−3", "−2", "−1", "0", "1"], **umap_axis),
    xaxis5=dict(domain=hd(507.3, 741.3), anchor="y5", range=[-8.82, 10.37], tickvals=[-7.5, -5, -2.5, 0, 2.5, 5, 7.5, 10],
                ticktext=["−7.5", "−5.0", "−2.5", "0.0", "2.5", "5.0", "7.5", "10.0"], ticklabelstandoff=-3, **umap_axis),
    yaxis5=dict(domain=vd(217.7, 380), anchor="x5", range=[-5.12, 5.66], tickvals=[-4, -2, 0, 2, 4], ticktext=["−4", "−2", "0", "2", "4"], **umap_axis),
    xaxis6=dict(domain=hd(34.3, 432.3), anchor="y6", range=[-.5, 7.5], tickmode="array", tickvals=xi, ticktext=date_groups, ticks="",
                showline=True, linecolor="#666", linewidth=1.2, showgrid=False, zeroline=False,
                tickfont=dict(family=OS, size=6.4, color="#222", weight="bold")),
    yaxis6=dict(domain=vd(253.7, 373.7), anchor="x6", range=[15, 50], dtick=5, ticks="outside", ticklen=2, tickcolor="#222", tickwidth=.7,
                showline=True, linecolor="#222", linewidth=1.2, showgrid=True, gridcolor=grid, gridwidth=.7, zeroline=False,
                tickfont=dict(family=OS, size=6.2, color="#222", weight="bold")),
    yaxis7=dict(domain=vd(253.7, 373.7), anchor="x6", overlaying="y6", side="right", range=[1478, 475], tickvals=years_ticks, ticks="outside", ticklen=2,
                tickcolor="#222", tickwidth=.7, showline=True, linecolor="#222", linewidth=1.2, showgrid=False, zeroline=False,
                tickfont=dict(family=OS, size=6.2, color="#222", weight="bold")),
    xaxis8=dict(domain=[0, 1], anchor="y8", range=[0, W], visible=False, showgrid=False),
    yaxis8=dict(domain=[0, 1], anchor="x8", range=[H, 0], visible=False, showgrid=False),
)
fig.write_html("out.html", config=dict(displayModeBar=False), post_script="document.body.style.margin='0';")
